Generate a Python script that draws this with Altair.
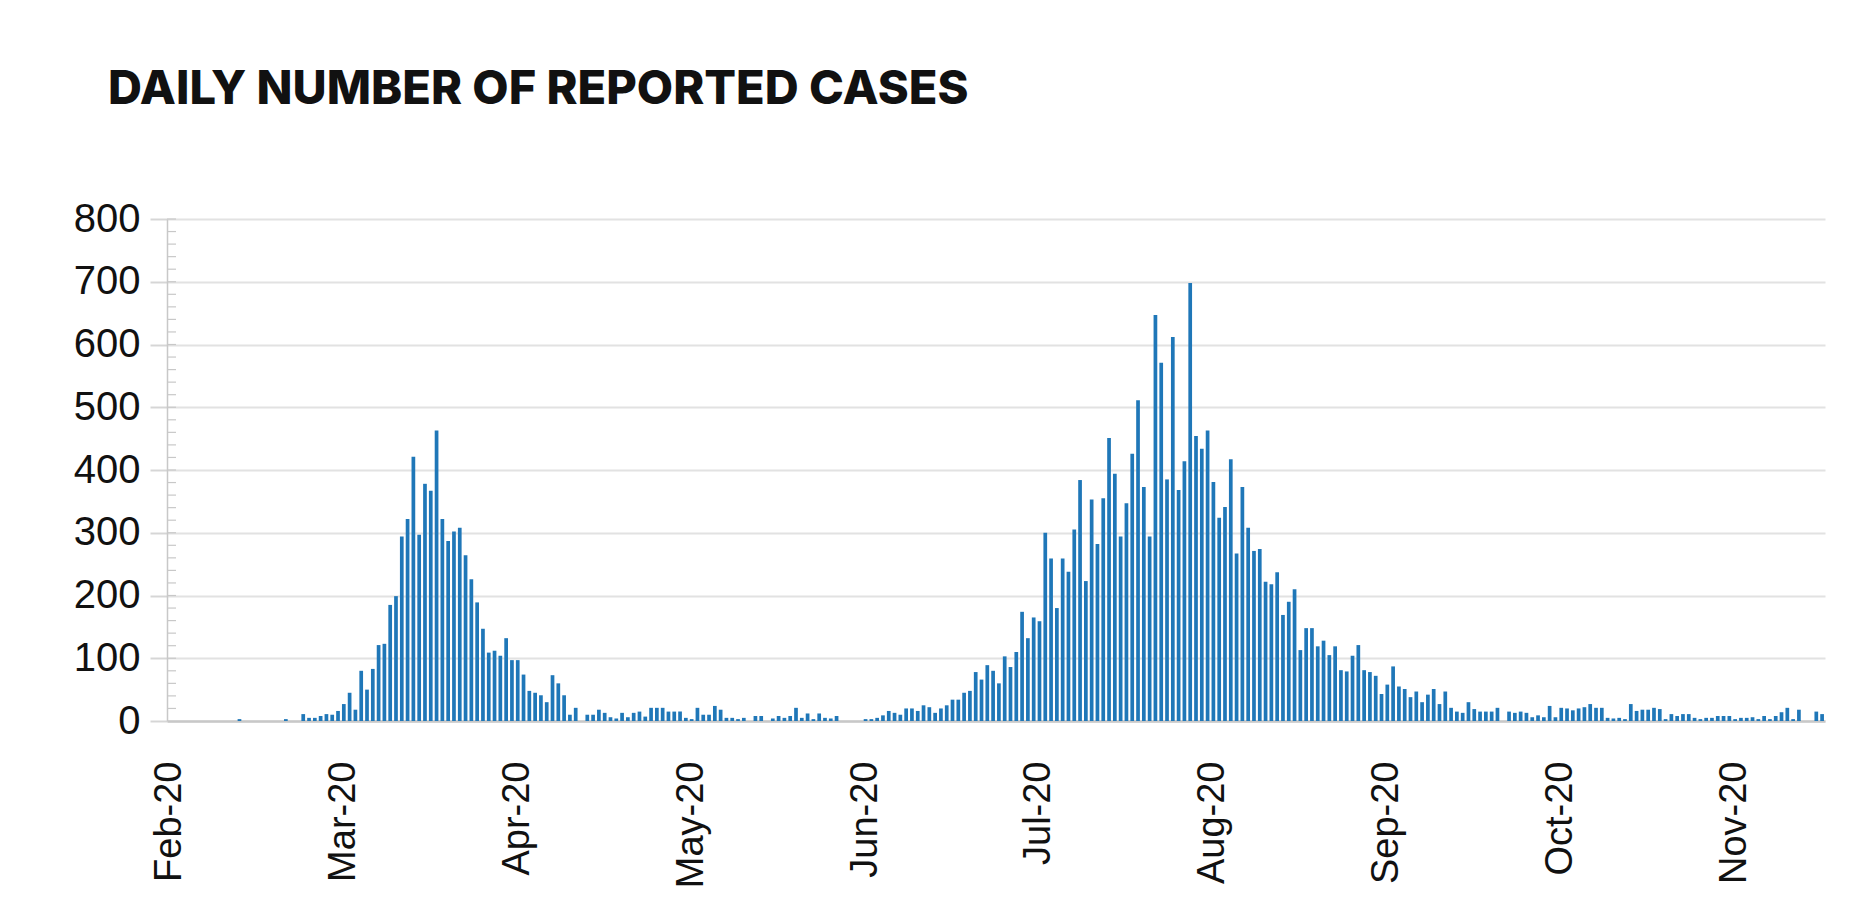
import altair as alt
import pandas as pd

start_date = "2020-02-11"

# Daily reported cases, 30 days per block
cases_a = [0, 0, 0, 0, 0, 0, 0, 0, 0, 0, 0, 0, 3, 0, 0, 0, 0, 0, 0, 0,
           3, 0, 0, 11, 5, 5, 8, 11, 10, 16]
cases_b = [27, 45, 18, 80, 50, 83, 121, 123, 185, 199, 294, 322, 421, 297, 378,
           367, 463, 322, 287, 302, 308, 264, 226, 189, 147, 109, 112, 104, 132, 97]
cases_c = [97, 74, 48, 45, 41, 30, 73, 60, 41, 10, 21, 0, 10, 10, 18, 13, 6, 4, 13, 6,
           13, 15, 7, 21, 21, 21, 15, 15, 15, 5]
cases_d = [3, 21, 10, 10, 24, 18, 5, 5, 3, 5, 0, 8, 8, 0, 4, 8, 5, 8, 21, 5,
           12, 3, 12, 5, 4, 8, 0, 0, 0, 0]
cases_e = [3, 3, 5, 9, 16, 13, 10, 20, 20, 16, 25, 22, 13, 20, 25, 34, 34, 45, 48, 78,
           66, 89, 80, 60, 103, 86, 110, 174, 132, 165]
cases_f = [159, 300, 259, 180, 259, 238, 305, 384, 223, 353, 282, 355, 451, 394, 294,
           347, 426, 511, 373, 294, 647, 571, 385, 612, 368, 414, 698, 454, 434, 463]
cases_g = [381, 324, 341, 417, 267, 373, 308, 271, 274, 222, 218, 237, 169, 190, 210,
           113, 148, 148, 119, 128, 105, 119, 81, 79, 104, 121, 81, 78, 72, 43]
cases_h = [58, 87, 55, 51, 38, 47, 30, 42, 51, 27, 47, 21, 15, 13, 30, 19, 15, 15, 15, 21,
           0, 15, 13, 15, 13, 6, 9, 6, 24, 6]
cases_i = [21, 20, 17, 20, 22, 27, 21, 21, 5, 4, 5, 3, 27, 16, 18, 18, 21, 19, 3, 11,
           8, 11, 11, 5, 3, 5, 5, 8, 8, 8]
cases_j = [3, 5, 5, 6, 3, 8, 3, 8, 14, 21, 3, 18, 0, 0, 15, 11]

y_ticks = [0, 100, 200, 300, 400, 500, 600, 700, 800]
minor_ticks = list(range(20, 801, 20))
label_every = 30

values = cases_a + cases_b + cases_c + cases_d + cases_e + cases_f + cases_g + cases_h + cases_i + cases_j
dates = pd.date_range(start_date, periods=len(values), freq="D").strftime("%Y-%m-%d").tolist()
df = pd.DataFrame({"date": dates, "cases": values})
label_dates = dates[::label_every]

y_axis = alt.Axis(
    values=y_ticks,
    title=None,
    grid=True,
    gridColor="#e2e2e2",
    gridWidth=2,
    tickColor="#d6d6d6",
    tickSize=17,
    tickWidth=2,
    domainColor="#c8c8c8",
    domainWidth=1.5,
    labelFont="Liberation Sans",
    labelFontSize=40,
    labelColor="#111111",
    labelPadding=10,
)
y_scale = alt.Scale(domain=[0, 800], nice=False)

bars = alt.Chart(df).mark_bar(color="#1f77b8").encode(
    x=alt.X(
        "date:O",
        scale=alt.Scale(domain=dates, paddingInner=0.36, paddingOuter=0.18),
        axis=alt.Axis(
            values=label_dates,
            labelExpr="utcFormat(toDate(datum.value), '%b-%y')",
            labelAngle=270,
            labelAlign="right",
            labelBaseline="middle",
            labelFont="Liberation Sans",
            labelFontSize=38,
            labelColor="#111111",
            labelPadding=40,
            ticks=False,
            domainColor="#c8c8c8",
            domainWidth=2.5,
            title=None,
            labelOverlap=False,
        ),
    ),
    y=alt.Y("cases:Q", scale=y_scale, axis=y_axis),
    tooltip=["date:N", "cases:Q"],
)

minor = alt.Chart(pd.DataFrame({"cases": minor_ticks})).mark_rule(
    color="#c8c8c8", strokeWidth=1.2
).encode(
    y=alt.Y("cases:Q", scale=y_scale, axis=y_axis),
    x=alt.value(0),
    x2=alt.value(9),
)

chart = alt.layer(bars, minor).properties(
    width=1658,
    height=502,
    padding={"left": 159, "top": 211, "right": 16, "bottom": 169},
    autosize=alt.AutoSizeParams(type="none"),
    title=alt.TitleParams(
        "DAILY NUMBER OF REPORTED CASES",
        anchor="start",
        frame="group",
        dx=-59,
        offset=48,
        baseline="alphabetic",
        font="Inter",
        fontWeight=800,
        fontSize=47,
        color="#111111",
    ),
).configure_view(stroke=None)

chart.save("out.html", embed_options={"renderer": "svg", "actions": False})
